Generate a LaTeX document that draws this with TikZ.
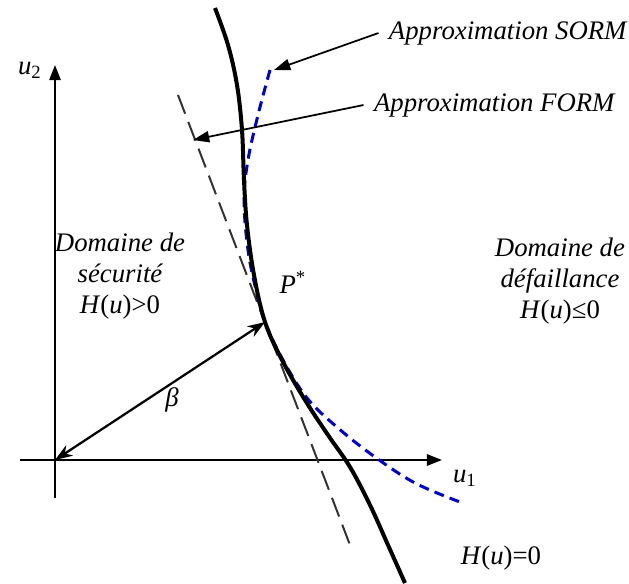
\documentclass[tikz,border=0pt]{standalone}
\usepackage{fontspec}
\setmainfont{Liberation Serif}
\usepackage{tikz}
\usetikzlibrary{arrows.meta}

\newcommand{\Hfun}{\textit{H}(\textit{u})}

\begin{document}
\begin{tikzpicture}[
  x=0.4pt,y=-0.4pt,
  font=\fontsize{10.7}{12}\selectfont,
  lbl/.style={font=\fontsize{10.7}{12.4}\selectfont\itshape,align=center,inner sep=0pt},
  axis/.style={-{Triangle[length=6pt,width=4.5pt]},line width=0.8pt},
  arr/.style={-{Triangle[length=6.5pt,width=4.5pt]},line width=0.7pt},
  darr/.style={{Stealth[length=7pt,width=5pt]}-{Stealth[length=7pt,width=5pt]},line width=0.9pt},
  limit/.style={line width=1.6pt},
  formline/.style={dash pattern=on 8pt off 3.5pt,line width=0.8pt,black!80},
  sormline/.style={dash pattern=on 4pt off 2.5pt,line width=1.2pt,blue!80!black}
]
\useasboundingbox (0,0) rectangle (629,583);

% axes
\coordinate (O)    at (55,460);
\coordinate (xend) at (442,460);
\coordinate (yend) at (55,65);
\draw[line width=0.8pt] (20,460) -- (O);
\draw[line width=0.8pt] (55,498) -- (O);
\draw[axis] (O) -- (xend);
\draw[axis] (O) -- (yend);
\node (u1) at (465,478) {\textit{u}\textsubscript{1}};
\node (u2) at (30,70)   {\textit{u}\textsubscript{2}};

% limit state and its approximations
\coordinate (P) at (265,322);
\draw[formline] (178,95) -- (350,545);
\draw[sormline] plot[smooth,tension=0.6] coordinates {(270,70) (258,115) (248,160) (244,200)
  (248,250) (256,290) (265,322) (283,360) (307,398) (338,428) (375,457) (415,483) (460,502)};
\draw[limit] plot[smooth,tension=0.6] coordinates {(215,8) (228,45) (237,85) (242,130)
  (244,180) (247,225) (254,275) (265,322) (282,360) (305,400) (328,435) (350,467)
  (370,505) (388,545) (405,583)};

% labels
\node (pstar) at (293,282) {\textit{P}\textsuperscript{*}};
\draw[darr] (O) -- (P);
\node (beta)  at (172,400) {\textit{β}};
\node[lbl] (safe) at (120,276) {Domaine de\\sécurité\\\upshape\Hfun>0};
\node[lbl] (fail) at (560,281) {Domaine de\\défaillance\\\upshape\Hfun≤0};
\node[anchor=west] (h0) at (452,558) {\Hfun=0};

% callouts
\node[lbl,anchor=east] (sorm) at (627,33)  {Approximation SORM};
\node[lbl,anchor=east] (form) at (615,105) {Approximation FORM};
\coordinate (sormtip) at (274,70);
\coordinate (formtip) at (193,140);
\draw[arr] ([xshift=-4pt]sorm.west) -- (sormtip);
\draw[arr] ([xshift=-4pt]form.west) -- (formtip);
\end{tikzpicture}
\end{document}
